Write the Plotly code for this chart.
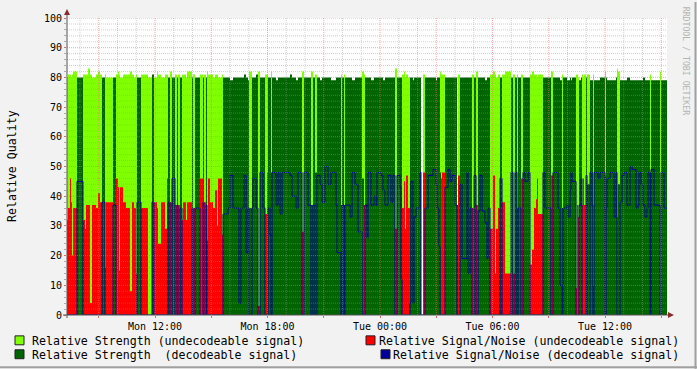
import datetime as dt
import plotly.graph_objects as go

# ---------------- data ----------------
# rrdtool graph: 600 columns over 32 h -> one consolidated sample every 192 s
STEP_SECONDS = 192
START = dt.datetime(2005, 6, 6, 7, 18, 24)   # Mon 07:18:24

# run-length encoded samples; kind: U = undecodeable, D = decodeable,
# M = mixed bin (strength only), W = partial bin without undecodeable part, G = gap
run_len = (
    [1, 2, 1, 1, 1, 4, 6, 2, 1, 2, 2, 2, 4, 2, 2, 2, 3, 1, 7, 3, 2, 1, 1, 3, 3, 4, 2, 2, 2, 1, 4, 2, 5, 4, 2, 3, 1, 3, 4, 2]
    + [1, 2, 2, 3, 2, 1, 2, 2, 1, 3, 1, 5, 1, 2, 5, 3, 1, 2, 1, 1, 2, 3, 2, 2, 1, 4]
    + [1, 5, 2, 3, 6, 2, 3, 2, 2, 1, 3, 1, 3, 2, 2, 3, 2, 2]
    + [1, 2, 1, 1, 4, 2, 2, 2, 8, 2, 4, 2, 4, 2, 4, 3, 2, 2, 2, 3, 2, 3, 3, 3, 5, 1, 4, 1, 2, 1, 5, 2, 3, 3, 4, 2, 1, 2]
    + [1, 3, 3, 2, 1, 4, 2, 2, 3, 3, 2, 2, 2, 3, 1, 1, 2, 1, 1, 2, 2, 1, 2, 1, 2, 4, 1, 2, 2, 3, 5, 3, 1, 2, 1, 1, 1, 3, 3, 2, 2, 3, 2, 1, 2, 2, 5]
    + [1, 2, 2, 2, 2, 2, 2, 2, 3, 2, 1, 2, 3, 2, 1, 2, 2, 2, 3, 6, 2, 2, 2, 1, 3, 2, 2, 3, 2, 2, 2, 2, 1, 1, 5, 2, 6, 2, 5, 2, 2, 1, 4]
    + [1, 2, 1, 1, 4, 1, 1, 1, 2, 1, 1, 1, 2, 1, 3, 2, 1, 1, 4, 2, 5, 1, 1, 3, 4, 2, 1, 1, 2, 2, 2, 3, 3, 2, 4, 2, 1, 2, 2, 2, 2, 1, 2, 1, 3, 6, 1, 3, 3]
)
run_kind = (
    "U U U U U U D U U U U U U U U U D U U D U U U U U U U U U U D U U U D U U U U U "
    "U D U D U D U D U U U U D U D U D U D U U U U U U U "
    "U D D D D D D D D D M D D D U D D U "
    "U D D M D D D D D D D D D U D D M D M D D D D D D D D M D M D D D D D M U D "
    "D D D D D D D D D D D D U D D D U U U U U D D D D D D G U D D D D D D M U U D D D D D W U D D "
    "D D D U D U D D D D D D U U U U U D U U D U D U D U D D D U U U U U U D D U D D D M D "
    "D D D D D U U U D D U U U D M D D U D D D U D D D D D U M D D D D D D D D D D D D D D M D D U D D"
).split()
run_level = (  # signal/noise, or strength of the decodeable part for M/W bins
    [32, 36, 46, 38, 20, 36, 45, 32, 29, 37, 37, 4, 37, 36, 41, 38, 38, 16, 38, 37, 46, 43, 15, 43, 38, 36, 8, 38, 36, 14, 38, 36, 36, 0, 38, 38, 36, 24, 38, 29]
    + [46, 38, 38, 46, 37, 37, 37, 36, 32, 38, 32, 38, 36, 36, 36, 46, 38, 38, 37, 25, 46, 38, 36, 42, 30, 46]
    + [27, 34, 36, 47, 36, 4, 36, 47, 21, 36, 36, 36, 46, 36, 3, 48, 36, 34]
    + [48, 36, 27, 48, 48, 37, 48, 34, 48, 47, 40, 36, 48, 28, 48, 37, 37, 37, 48, 47, 44, 38, 50, 44, 48, 37, 21, 37, 37, 37, 37, 33, 48, 44, 28, 46, 37, 37]
    + [26, 48, 37, 40, 37, 48, 47, 42, 37, 47, 38, 47, 29, 47, 43, 12, 36, 45, 29, 47, 36, 4, 45, 4, 33, 36, 48, 0, 48, 36, 47, 49, 44, 36, 23, 48, 46, 48, 43, 49, 45, 47, 37, 37, 47, 44, 19]
    + [48, 14, 36, 36, 47, 37, 35, 47, 35, 31, 19, 36, 29, 47, 14, 29, 36, 46, 38, 14, 48, 14, 48, 36, 36, 46, 48, 45, 48, 17, 22, 36, 39, 46, 34, 48, 36, 47, 48, 36, 10, 36, 36]
    + [37, 33, 42, 48, 45, 9, 37, 33, 37, 46, 37, 46, 37, 47, 44, 48, 37, 10, 48, 46, 48, 47, 36, 46, 48, 33, 48, 33, 44, 38, 47, 48, 37, 50, 49, 36, 37, 48, 44, 37, 33, 36, 48, 48, 49, 37, 0, 48, 36]
)
run_strength = (
    [80, 81, 81, 80, 81, 82, 80, 81, 81, 81, 83, 81, 80, 81, 82, 81, 80, 81, 80, 80, 81, 82, 81, 80, 81, 81, 82, 81, 80, 81, 80, 81, 81, 80, 81, 80, 82, 81, 80, 81]
    + [81, 80, 82, 80, 81, 80, 81, 80, 81, 81, 80, 82, 80, 81, 80, 81, 80, 81, 80, 82, 81, 81, 80, 81, 81, 80]
    + [81, 80, 80, 79, 80, 80, 80, 81, 80, 79, 82, 80, 80, 81, 82, 80, 80, 81]
    + [81, 80, 80, 82, 80, 79, 80, 80, 80, 81, 80, 79, 80, 82, 80, 80, 82, 80, 81, 80, 79, 80, 80, 80, 79, 80, 80, 81, 80, 81, 80, 80, 79, 80, 80, 82, 81, 80]
    + [80, 80, 79, 80, 80, 80, 80, 79, 80, 80, 80, 80, 83, 80, 80, 80, 81, 82, 80, 81, 80, 80, 80, 79, 80, 80, 80, 0, 81, 80, 80, 80, 79, 80, 80, 82, 81, 81, 80, 80, 80, 80, 80, 0, 81, 80, 80]
    + [80, 80, 80, 81, 80, 82, 80, 80, 80, 79, 80, 80, 81, 82, 81, 80, 81, 80, 81, 82, 80, 81, 80, 81, 80, 81, 80, 80, 80, 81, 82, 81, 81, 80, 81, 80, 80, 82, 80, 80, 79, 81, 80]
    + [79, 79, 80, 79, 80, 81, 81, 80, 79, 80, 81, 80, 81, 80, 81, 79, 79, 81, 79, 79, 80, 82, 80, 79, 79, 79, 80, 83, 82, 79, 79, 79, 80, 79, 79, 79, 79, 79, 79, 80, 79, 79, 79, 81, 79, 79, 82, 79, 79]
)

x_tick_times = ["2005-06-06 09:00", "2005-06-06 12:00", "2005-06-06 15:00", "2005-06-06 18:00",
                "2005-06-06 21:00", "2005-06-07 00:00", "2005-06-07 03:00", "2005-06-07 06:00",
                "2005-06-07 09:00", "2005-06-07 12:00", "2005-06-07 15:00"]
x_tick_labels = ["", "Mon 12:00", "", "Mon 18:00", "", "Tue 00:00", "", "Tue 06:00", "", "Tue 12:00", ""]
y_tick_values = [0, 10, 20, 30, 40, 50, 60, 70, 80, 90, 100]

legend_labels = ["Relative Strength (undecodeable signal)",
                 "Relative Strength\u00a0 (decodeable signal)",
                 "Relative Signal/Noise (undecodeable signal)",
                 "Relative Signal/Noise (decodeable signal)"]
colors = ["#80ff00", "#006400", "#ff0000", "#000099"]

assert len(run_len) == len(run_kind) == len(run_level) == len(run_strength), (
    len(run_len), len(run_kind), len(run_level), len(run_strength))

# ---------------- decode runs (CDEF-like split) ----------------
str_u, str_d, snr_u, snr_d = [], [], [], []
for n, kind, lvl, s in zip(run_len, run_kind, run_level, run_strength):
    if kind == "U":
        v = (s, 0, lvl, 0)
    elif kind == "D":
        v = (0, s, 0, lvl)
    elif kind == "M":
        v = (s, lvl, 0, 0)
    elif kind == "W":
        v = (0, lvl, 0, 0)
    else:  # gap: nothing drawn
        v = (0, 0, 0, 0)
    for _ in range(n):
        str_u.append(v[0]); str_d.append(v[1]); snr_u.append(v[2]); snr_d.append(v[3])

N = len(str_u)
times = [START + dt.timedelta(seconds=STEP_SECONDS * i) for i in range(N + 1)]
END = START + dt.timedelta(seconds=STEP_SECONDS * 600)


def stepped(vals):
    return vals + [vals[-1]]


fig = go.Figure()
fig.add_trace(go.Scatter(x=times, y=stepped(str_u), mode="lines", line=dict(width=0, shape="hv"),
                         fill="tozeroy", fillcolor=colors[0], hoverinfo="skip", showlegend=False))
fig.add_trace(go.Scatter(x=times, y=stepped(str_d), mode="lines", line=dict(width=0, shape="hv"),
                         fill="tozeroy", fillcolor=colors[1], hoverinfo="skip", showlegend=False))
fig.add_trace(go.Scatter(x=times, y=stepped(snr_u), mode="lines", line=dict(width=0, shape="hv"),
                         fill="tozeroy", fillcolor=colors[2], hoverinfo="skip", showlegend=False))
fig.add_trace(go.Scatter(x=times, y=stepped(snr_d), mode="lines", line=dict(width=1, shape="hv", color=colors[3]),
                         hoverinfo="skip", showlegend=False))

# ---------------- layout helpers ----------------
L, R, T, B, W, H = 67, 667, 16, 315, 697, 369


def px_x(px):
    return (px - L) / (R - L)


def px_y(py):
    return (B - py) / (B - T)


shapes = []
# horizontal grid (on top of the data, like rrdtool)
for v in range(2, 101, 2):
    major = v % 10 == 0
    shapes.append(dict(type="line", xref="paper", yref="y", x0=0, x1=1, y0=v, y1=v, layer="above",
                       line=dict(color="rgba(235,110,110,0.6)" if major else "rgba(150,150,150,0.45)",
                                 width=1, dash="1px,1px")))
# vertical grid every hour, major every 3 hours
t = dt.datetime(2005, 6, 6, 8, 0)
while t < END:
    major = t.hour % 3 == 0
    shapes.append(dict(type="line", xref="x", yref="paper", x0=t, x1=t, y0=0, y1=1, layer="above",
                       line=dict(color="rgba(235,110,110,0.6)" if major else "rgba(150,150,150,0.45)",
                                 width=1, dash="1px,1px")))
    t += dt.timedelta(hours=1)

axis_col = "#555555"
arrow_col = "#8b2a2a"
shapes.append(dict(type="line", xref="paper", yref="paper", x0=px_x(63), x1=px_x(670), y0=0, y1=0,
                   layer="above", line=dict(color=axis_col, width=1)))
shapes.append(dict(type="line", xref="paper", yref="paper", x0=0, x1=0, y0=px_y(318), y1=px_y(11),
                   layer="above", line=dict(color=axis_col, width=1)))
shapes.append(dict(type="path", xref="paper", yref="paper", xsizemode="pixel", ysizemode="pixel",
                   xanchor=px_x(668), yanchor=0, path="M 0,-3 L 6,0 L 0,3 Z",
                   fillcolor=arrow_col, line=dict(width=0), layer="above"))
shapes.append(dict(type="path", xref="paper", yref="paper", xsizemode="pixel", ysizemode="pixel",
                   xanchor=0, yanchor=px_y(13), path="M -3,0 L 3,0 L 0,6 Z",
                   fillcolor=arrow_col, line=dict(width=0), layer="above"))

# legend boxes
box_pos = [(15, 336), (15, 350), (366, 336), (381, 350)]
for (bx, by), c in zip(box_pos, colors):
    shapes.append(dict(type="rect", xref="paper", yref="paper", x0=px_x(bx), x1=px_x(bx + 9),
                       y0=px_y(by + 9), y1=px_y(by), fillcolor=c, line=dict(color="#202020", width=1)))

# outer frame
shapes.append(dict(type="line", xref="paper", yref="paper", x0=px_x(0), x1=px_x(W), y0=px_y(367.5), y1=px_y(367.5),
                   line=dict(color="#a0a0a0", width=2)))
shapes.append(dict(type="line", xref="paper", yref="paper", x0=px_x(695.5), x1=px_x(695.5), y0=px_y(0), y1=px_y(H),
                   line=dict(color="#a0a0a0", width=2)))

mono = "DejaVu Sans Mono"
annotations = []
legend_text_pos = [(30, 341, "left"), (30, 355, "left"), (681, 341, "right"), (681, 355, "right")]
for (tx, ty, anc), txt in zip(legend_text_pos, legend_labels):
    annotations.append(dict(text=txt, xref="paper", yref="paper", x=px_x(tx), y=px_y(ty),
                            xanchor=anc, yanchor="middle", showarrow=False,
                            font=dict(family=mono, size=11.6, color="#000000")))
annotations.append(dict(text="Relative Quality", xref="paper", yref="paper", x=px_x(12), y=px_y(165),
                        xanchor="center", yanchor="middle", textangle=-90, showarrow=False,
                        font=dict(family=mono, size=11.6, color="#000000")))
annotations.append(dict(text="RRDTOOL / TOBI OETIKER", xref="paper", yref="paper", x=px_x(686), y=px_y(59),
                        xanchor="center", yanchor="middle", textangle=90, showarrow=False,
                        font=dict(family=mono, size=8.2, color="#b4b4b4")))

fig.update_layout(
    width=W, height=H,
    margin=dict(l=L, r=W - R, t=T, b=H - B, pad=0),
    paper_bgcolor="#f2f2f2", plot_bgcolor="#ffffff",
    showlegend=False, hovermode=False,
    shapes=shapes, annotations=annotations,
    xaxis=dict(type="date", range=[START, END], tickvals=x_tick_times, ticktext=x_tick_labels,
               showgrid=False, zeroline=False, showline=False, fixedrange=True,
               ticks="outside", ticklen=2, tickcolor="#d07070",
               tickfont=dict(family=mono, size=10, color="#000000")),
    yaxis=dict(range=[0, 100], tickvals=y_tick_values, showgrid=False, zeroline=False, showline=False,
               fixedrange=True, ticks="outside", ticklen=2, tickcolor="#d07070",
               tickfont=dict(family=mono, size=10, color="#000000"),
               minor=dict(dtick=2, ticks="outside", ticklen=2, tickcolor="#aaaaaa", showgrid=False)),
)

fig.write_html("out.html", config={"displayModeBar": False, "staticPlot": True},
               post_script="document.body.style.margin='0';document.body.style.overflow='hidden';")
